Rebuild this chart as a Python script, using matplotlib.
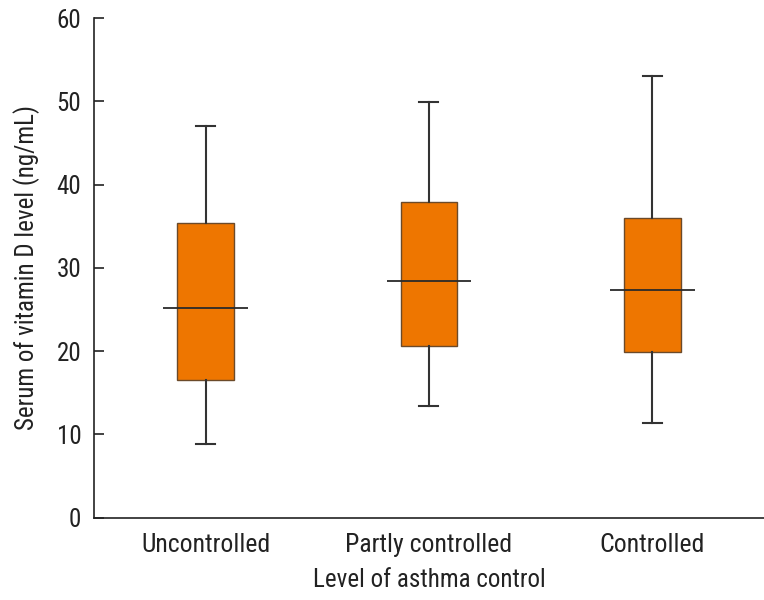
import matplotlib
matplotlib.use("Agg")
import matplotlib.pyplot as plt
from matplotlib import font_manager

# pick a condensed sans if one is installed, otherwise Liberation Sans
installed = {f.name for f in font_manager.fontManager.ttflist}
narrow = None
for name in ['Liberation Sans Narrow', 'Roboto Condensed', 'Arial Narrow', 'Open Sans Condensed']:
    if name in installed:
        narrow = name
        break
if narrow:
    plt.rcParams['font.family'] = [narrow, 'DejaVu Sans']
    fs_tick, fs_cat, fs_lab = 18, 18.5, 18
else:
    plt.rcParams['font.family'] = ['Liberation Sans', 'DejaVu Sans']
    fs_tick, fs_cat, fs_lab = 16, 16.5, 16

# data
categories = ["Uncontrolled", "Partly controlled", "Controlled"]
whisker_low = [8.9, 13.4, 11.4]
q1 = [16.5, 20.6, 19.9]
median = [25.2, 28.4, 27.4]
q3 = [35.4, 37.9, 36.0]
whisker_high = [47.0, 49.9, 53.0]

positions = [1, 2, 3]

stats = []
for i, name in enumerate(categories):
    stats.append({
        'label': name,
        'whislo': whisker_low[i],
        'q1': q1[i],
        'med': median[i],
        'q3': q3[i],
        'whishi': whisker_high[i],
        'fliers': [],
    })

fig = plt.figure(figsize=(7.64, 6.0), dpi=100, facecolor='white')
ax = fig.add_axes([0.123, 0.137, 0.877, 0.833])

ax.bxp(stats, positions=positions, widths=0.255, capwidths=0.085,
       patch_artist=True, showfliers=False,
       boxprops=dict(facecolor='#EE7600', edgecolor='#6b4a2a', linewidth=1.0),
       whiskerprops=dict(color='#333333', linewidth=1.5),
       capprops=dict(color='#333333', linewidth=1.5),
       medianprops=dict(linewidth=0))

# median line is wider than the box
ax.hlines(median, [p - 0.19 for p in positions], [p + 0.19 for p in positions],
          color='#2a2a2a', linewidth=1.3, zorder=5)

ax.set_xlim(0.5, 3.5)
ax.set_ylim(0, 60)
ax.set_yticks(range(0, 61, 10))
ax.set_xticks(positions)
ax.set_xticklabels(categories)

ax.spines['top'].set_visible(False)
ax.spines['right'].set_visible(False)
ax.spines['left'].set_color('#222222')
ax.spines['bottom'].set_color('#222222')
ax.spines['left'].set_linewidth(1.2)
ax.spines['bottom'].set_linewidth(1.2)

ax.tick_params(axis='y', direction='in', length=7, width=1.2, pad=9,
               labelsize=fs_tick, colors='#222222')
ax.tick_params(axis='x', length=0, pad=11, labelsize=fs_cat, colors='#222222')

ax.set_ylabel('Serum of vitamin D level (ng/mL)', fontsize=fs_lab, color='#222222', labelpad=12)
ax.set_xlabel('Level of asthma control', fontsize=fs_lab, color='#222222', labelpad=8)

fig.savefig('out.png', dpi=100)
